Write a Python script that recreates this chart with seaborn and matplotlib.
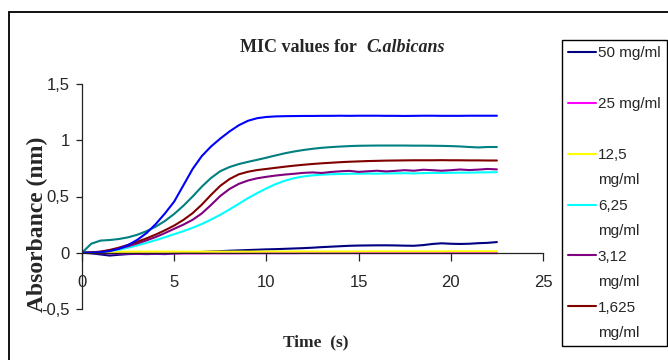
import matplotlib
matplotlib.use("Agg")
import matplotlib.pyplot as plt
import seaborn as sns
from matplotlib import font_manager
from matplotlib.lines import Line2D
from matplotlib.patches import Rectangle

# ---------------- data ----------------
time_s = [0, 0.5, 1, 1.5, 2, 2.5, 3, 3.5, 4, 4.5, 5, 5.5, 6, 6.5, 7, 7.5, 8, 8.5,
          9, 9.5, 10, 10.5, 11, 11.5, 12, 12.5, 13, 13.5, 14, 14.5, 15, 15.5, 16,
          16.5, 17, 17.5, 18, 18.5, 19, 19.5, 20, 20.5, 21, 21.5, 22, 22.5]

abs_50 = [0, -0.005, -0.015, -0.025, -0.018, -0.012, -0.010, -0.012, -0.010, -0.012,
          -0.006, -0.002, 0.003, 0.007, 0.011, 0.014, 0.018, 0.021, 0.024, 0.027,
          0.030, 0.032, 0.035, 0.038, 0.041, 0.045, 0.050, 0.054, 0.058, 0.062,
          0.064, 0.065, 0.066, 0.066, 0.065, 0.063, 0.062, 0.068, 0.078, 0.084,
          0.080, 0.078, 0.080, 0.085, 0.088, 0.095]
abs_25 = [0, -0.002, -0.004, -0.005, -0.006, -0.006, -0.006, -0.006, -0.006, -0.006,
          -0.006, -0.006, -0.006, -0.006, -0.005, -0.005, -0.005, -0.005, -0.004, -0.004,
          -0.004, -0.004, -0.004, -0.004, -0.003, -0.003, -0.003, -0.003, -0.003, -0.003,
          -0.003, -0.003, -0.003, -0.003, -0.003, -0.003, -0.003, -0.003, -0.003, -0.003,
          -0.003, -0.003, -0.003, -0.003, -0.003, -0.003]
abs_12_5 = [0, 0.003, 0.006, 0.008, 0.009, 0.009, 0.010, 0.010, 0.010, 0.010,
            0.010, 0.010, 0.010, 0.010, 0.010, 0.010, 0.010, 0.010, 0.010, 0.010,
            0.011, 0.011, 0.011, 0.011, 0.011, 0.011, 0.011, 0.011, 0.011, 0.011,
            0.012, 0.012, 0.012, 0.012, 0.012, 0.012, 0.012, 0.012, 0.012, 0.012,
            0.013, 0.013, 0.013, 0.013, 0.013, 0.013]
abs_6_25 = [0, 0.002, 0.006, 0.015, 0.028, 0.045, 0.066, 0.088, 0.112, 0.138,
            0.165, 0.192, 0.222, 0.256, 0.295, 0.338, 0.385, 0.435, 0.485, 0.530,
            0.572, 0.610, 0.640, 0.663, 0.678, 0.688, 0.694, 0.698, 0.700, 0.702,
            0.703, 0.704, 0.703, 0.705, 0.706, 0.707, 0.705, 0.708, 0.710, 0.709,
            0.711, 0.712, 0.712, 0.714, 0.715, 0.716]
abs_3_12 = [0, 0.002, 0.008, 0.020, 0.037, 0.058, 0.083, 0.110, 0.140, 0.175,
            0.213, 0.250, 0.293, 0.350, 0.425, 0.505, 0.567, 0.612, 0.642, 0.662,
            0.675, 0.686, 0.695, 0.702, 0.710, 0.714, 0.709, 0.718, 0.724, 0.728,
            0.719, 0.724, 0.729, 0.723, 0.728, 0.734, 0.729, 0.738, 0.734, 0.729,
            0.734, 0.740, 0.735, 0.739, 0.745, 0.741]
abs_1_625 = [0, 0.003, 0.010, 0.025, 0.045, 0.070, 0.098, 0.128, 0.162, 0.200,
             0.242, 0.292, 0.352, 0.428, 0.515, 0.595, 0.655, 0.697, 0.720, 0.735,
             0.745, 0.755, 0.765, 0.774, 0.782, 0.789, 0.795, 0.800, 0.805, 0.809,
             0.812, 0.815, 0.817, 0.819, 0.820, 0.821, 0.822, 0.822, 0.822, 0.823,
             0.822, 0.822, 0.821, 0.821, 0.820, 0.820]
abs_series7 = [0, 0.080, 0.108, 0.113, 0.122, 0.137, 0.160, 0.192, 0.232, 0.283,
               0.345, 0.418, 0.500, 0.588, 0.665, 0.725, 0.762, 0.788, 0.808, 0.826,
               0.845, 0.865, 0.884, 0.900, 0.913, 0.924, 0.933, 0.939, 0.944, 0.948,
               0.951, 0.952, 0.953, 0.953, 0.953, 0.953, 0.952, 0.952, 0.951, 0.950,
               0.948, 0.945, 0.940, 0.936, 0.940, 0.940]
abs_series8 = [0, 0.001, 0.005, 0.015, 0.035, 0.068, 0.115, 0.175, 0.255, 0.350,
               0.455, 0.600, 0.745, 0.860, 0.945, 1.015, 1.078, 1.133, 1.173, 1.196,
               1.207, 1.212, 1.214, 1.215, 1.216, 1.216, 1.217, 1.217, 1.218, 1.217,
               1.218, 1.218, 1.218, 1.217, 1.217, 1.216, 1.217, 1.218, 1.218, 1.217,
               1.217, 1.217, 1.218, 1.218, 1.218, 1.218]

series_labels = ["50 mg/ml", "25 mg/ml", "12,5 mg/ml", "6,25 mg/ml",
                 "3,12 mg/ml", "1,625 mg/ml", "_series 7", "_series 8"]
series_values = [abs_50, abs_25, abs_12_5, abs_6_25, abs_3_12, abs_1_625,
                 abs_series7, abs_series8]
series_colors = ["#000080", "#FF00FF", "#FFFF00", "#00FFFF",
                 "#800080", "#800000", "#008080", "#0000FF"]

x_ticks = [0, 5, 10, 15, 20, 25]
x_tick_labels = ["0", "5", "10", "15", "20", "25"]
y_ticks = [-0.5, 0, 0.5, 1, 1.5]
y_tick_labels = ["-0,5", "0", "0,5", "1", "1,5"]

title_main = "MIC values for"
title_species = "C.albicans"
x_label = "Time  (s)"
y_label = "Absorbance (nm)"

# ---------------- style ----------------
sns.set_theme(style="white")
names = {f.name for f in font_manager.fontManager.ttflist}
if "Liberation Sans Narrow" in names:
    sans, tick_fs, leg_fs = "Liberation Sans Narrow", 13, 12.5
else:
    sans, tick_fs, leg_fs = "Liberation Sans", 12, 11
serif = "Liberation Serif"
plt.rcParams["font.family"] = [sans, "DejaVu Sans"]

W, H = 668, 360
fig = plt.figure(figsize=(W / 100, H / 100), dpi=100)
ax = fig.add_axes([82 / W, 51 / H, 461 / W, 225 / H])

for vals, lbl, col in zip(series_values, series_labels, series_colors):
    sns.lineplot(x=time_s, y=vals, ax=ax, color=col, linewidth=1.5, label=lbl)
if ax.get_legend() is not None:
    ax.get_legend().remove()

ax.set_xlim(0, 25)
ax.set_ylim(-0.5, 1.5)
ax.set_xticks(x_ticks)
ax.set_xticklabels(x_tick_labels)
ax.set_yticks(y_ticks)
ax.set_yticklabels(y_tick_labels)

for s in ("top", "right"):
    ax.spines[s].set_visible(False)
ax.spines["bottom"].set_position(("data", 0))
for s in ("bottom", "left"):
    ax.spines[s].set_color("#222222")
    ax.spines[s].set_linewidth(0.9)

ax.tick_params(axis="x", bottom=True, direction="out", length=6, width=0.9,
               pad=10, labelsize=tick_fs, color="#222222")
ax.tick_params(axis="y", left=True, direction="out", length=4, width=0.9,
               pad=5, labelsize=tick_fs, color="#222222")
ax.patch.set_alpha(0)

# axis labels
ax.set_xlabel(x_label, fontfamily=serif, fontweight="bold", fontsize=12.5)
ax.xaxis.label.set_va("center")
ax.xaxis.set_label_coords((316 - 82) / 461, (309 - 342) / 225)
ax.set_ylabel(y_label, fontfamily=serif, fontweight="bold", fontsize=17)
ax.yaxis.label.set_va("center")
ax.yaxis.set_label_coords((37 - 82) / 461, (309 - 224) / 225)

# title
fig.text(357 / W, 1 - 48 / H, title_main, ha="right", va="center",
         fontfamily=serif, fontweight="bold", fontsize=13)
fig.text(366 / W, 1 - 48 / H, title_species, ha="left", va="center",
         fontfamily=serif, fontweight="bold", fontstyle="italic", fontsize=13)

# legend (wrapped labels as in the reference)
handles, labels = ax.get_legend_handles_labels()
leg_h, leg_l = [], []
for h, l in zip(handles, labels):
    parts = [l] if len(l) <= 8 else l.split(" ", 1)
    leg_h.append(h)
    leg_l.append(parts[0])
    leg_h.append(Line2D([], [], color="none"))
    leg_l.append(parts[1] if len(parts) > 1 else " ")
leg = fig.legend(leg_h, leg_l, loc="upper left",
                 bbox_to_anchor=(562 / W, 1 - 40 / H), bbox_transform=fig.transFigure,
                 frameon=True, fancybox=False, edgecolor="black", framealpha=1,
                 borderpad=0.4, handlelength=1.8, handletextpad=0.15,
                 labelspacing=0.75, fontsize=leg_fs, borderaxespad=0)
leg.get_frame().set_linewidth(1.0)

# outer chart frame
fig.patches.append(Rectangle((9 / W, -0.1), 1.2, 1 - 12 / H + 0.1,
                             transform=fig.transFigure, fill=False,
                             edgecolor="black", linewidth=1.3))

fig.savefig("out.png", dpi=100)
